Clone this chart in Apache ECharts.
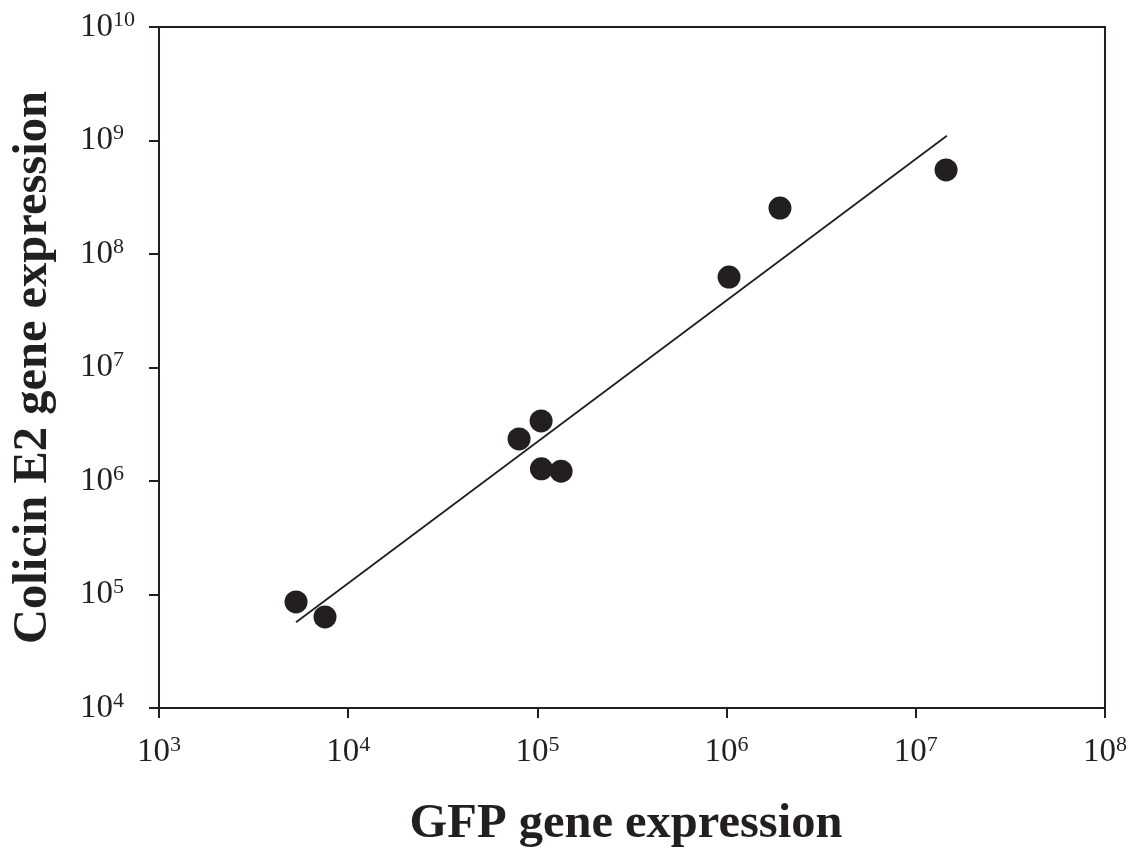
<!DOCTYPE html>
<html>
<head>
<meta charset="utf-8">
<script src="https://cdn.jsdelivr.net/npm/echarts@6/dist/echarts.min.js"></script>
<style>html,body{margin:0;padding:0;background:#fff;}#c{width:1134px;height:850px;}</style>
</head>
<body>
<div id="c"></div>
<script>
const xTitle = 'GFP gene expression';
const yTitle = 'Colicin E2 gene expression';
const gfp = [5300, 7540, 80000, 104600, 105000, 133400, 1030000, 1915000, 14450000];
const colicin = [86000, 63400, 2350000, 3380000, 1280000, 1220000, 62700000, 254000000, 550000000];
const fitX = [5300, 14600000];
const fitY = [56900, 1100000000];
const xRange = [1e3, 1e8];
const yRange = [1e4, 1e10];

const ink = '#231f20';
const serif = 'Liberation Serif';
const supLabel = v => '{b|10}{s|' + Math.round(Math.log10(v)) + '}';
const rich = {
  b: { fontSize: 33, fontFamily: serif, color: ink, lineHeight: 36 },
  s: { fontSize: 22, fontFamily: serif, color: ink, lineHeight: 24, verticalAlign: 'top' }
};

const chart = echarts.init(document.getElementById('c'));
chart.setOption({
  animation: false,
  backgroundColor: '#fff',
  grid: { left: 159, right: 29, top: 27, bottom: 142, containLabel: false, outerBoundsMode: 'none', show: true, borderColor: ink, borderWidth: 2, backgroundColor: 'transparent' },
  xAxis: {
    type: 'log', logBase: 10, min: xRange[0], max: xRange[1], splitNumber: 5,
    name: xTitle, nameLocation: 'middle', nameGap: 92,
    nameTextStyle: { fontFamily: serif, fontWeight: 'bold', fontSize: 48.5, color: ink, padding: [0, 12, 0, 0] },
    axisLine: { lineStyle: { color: ink, width: 2 } },
    axisTick: { inside: false, length: 10, lineStyle: { color: ink, width: 2 } },
    minorTick: { show: false },
    splitLine: { show: false },
    axisLabel: { margin: 26, formatter: supLabel, rich: rich }
  },
  yAxis: {
    type: 'log', logBase: 10, min: yRange[0], max: yRange[1], splitNumber: 6,
    name: yTitle, nameLocation: 'middle', nameGap: 101,
    nameTextStyle: { fontFamily: serif, fontWeight: 'bold', fontSize: 48.5, color: ink },
    axisLine: { lineStyle: { color: ink, width: 2 } },
    axisTick: { inside: false, length: 10, lineStyle: { color: ink, width: 2 } },
    minorTick: { show: false },
    splitLine: { show: false },
    axisLabel: { margin: 79, align: 'left', formatter: supLabel, rich: rich }
  },
  series: [
    {
      type: 'line', data: fitX.map((x, i) => [x, fitY[i]]), showSymbol: false, symbol: 'none',
      lineStyle: { color: ink, width: 1.8 }, z: 2, silent: true
    },
    {
      type: 'scatter', data: gfp.map((x, i) => [x, colicin[i]]), symbol: 'circle', symbolSize: 23,
      itemStyle: { color: ink, opacity: 1 }, z: 3
    }
  ]
});
</script>
</body>
</html>
